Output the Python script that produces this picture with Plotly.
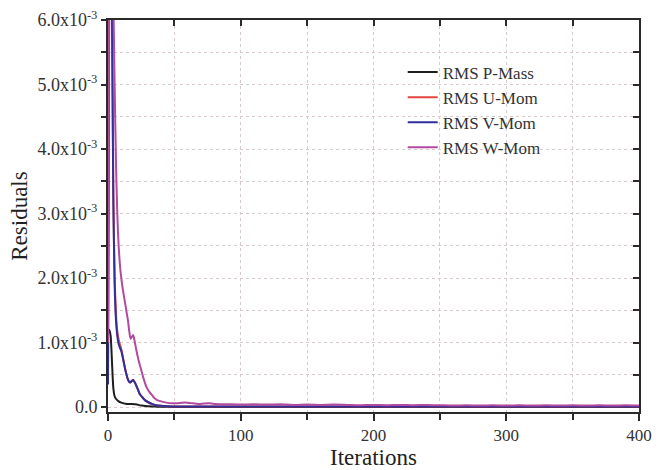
import plotly.graph_objects as go

# ---- data (residuals in units of 1e-3) ----
p_iter = [0, 1, 2, 3, 4, 5, 6, 8, 10, 14, 18, 21, 25, 30, 35, 40, 50, 60, 80, 100, 150, 200, 250, 300, 350, 400]
p_mass = [1.15, 1.2, 1.1, 0.7, 0.3, 0.17, 0.13, 0.09, 0.07, 0.05, 0.05, 0.045, 0.025, 0.015, 0.01, 0.006, 0.004,
          0.003, 0.003, 0.002, 0.002, 0.002, 0.002, 0.002, 0.002, 0.002]

v_iter = [0, 1, 2, 3, 4, 5, 6, 7, 8, 9, 10, 11, 12, 13, 14, 15, 16, 17, 18, 19, 20, 21, 22, 23, 24, 26, 28, 30,
          33, 36, 40, 45, 50, 70, 100, 130, 160, 200, 250, 300, 350, 400]
v_mom = [0.35, 7.0, 9.0, 6.2, 3.2, 1.9, 1.35, 1.1, 0.98, 0.92, 0.87, 0.78, 0.68, 0.58, 0.5, 0.43, 0.39, 0.385,
         0.41, 0.42, 0.39, 0.35, 0.3, 0.25, 0.2, 0.15, 0.105, 0.08, 0.05, 0.03, 0.02, 0.015, 0.012, 0.01, 0.012,
         0.01, 0.012, 0.01, 0.012, 0.01, 0.012, 0.01]

u_iter = v_iter
u_mom = [0.4, 7.2, 9.0, 6.4, 3.4, 2.0, 1.45, 1.18, 1.05, 0.97, 0.9, 0.8, 0.69, 0.59, 0.5, 0.43, 0.39, 0.385,
         0.41, 0.42, 0.39, 0.35, 0.3, 0.25, 0.2, 0.15, 0.105, 0.08, 0.05, 0.03, 0.02, 0.015, 0.012, 0.01, 0.012,
         0.01, 0.012, 0.01, 0.012, 0.01, 0.012, 0.01]

w_iter = [0, 1, 2, 3, 4, 5, 6, 7, 8, 9, 10, 11, 12, 13, 14, 15, 16, 17, 18, 19, 20, 21, 22, 23, 24, 25, 27, 29,
          31, 33, 35, 37, 40, 44, 48, 52, 56, 60, 64, 68, 72, 76, 80, 90, 100, 110, 120, 130, 140, 150, 160, 170,
          180, 190, 200, 210, 220, 230, 240, 250, 260, 270, 280, 290, 300, 310, 320, 330, 340, 350, 360, 370, 380,
          390, 400]
w_mom = [1.0, 8.0, 10.0, 8.0, 6.4, 5.0, 3.8, 3.0, 2.5, 2.2, 2.0, 1.85, 1.72, 1.6, 1.47, 1.35, 1.18, 1.06, 1.09,
         1.12, 1.03, 0.92, 0.82, 0.73, 0.65, 0.58, 0.43, 0.31, 0.24, 0.19, 0.14, 0.11, 0.09, 0.07, 0.06, 0.06,
         0.07, 0.07, 0.06, 0.05, 0.055, 0.06, 0.05, 0.045, 0.04, 0.045, 0.04, 0.045, 0.035, 0.04, 0.035, 0.04,
         0.035, 0.03, 0.035, 0.03, 0.035, 0.03, 0.035, 0.03, 0.025, 0.03, 0.025, 0.03, 0.025, 0.03, 0.025, 0.03,
         0.025, 0.03, 0.025, 0.03, 0.025, 0.03, 0.025]

y_tickvals = [0, 1e-3, 2e-3, 3e-3, 4e-3, 5e-3, 6e-3]
y_ticktext = ["0.0", "1.0x10<sup>-3</sup>", "2.0x10<sup>-3</sup>", "3.0x10<sup>-3</sup>",
              "4.0x10<sup>-3</sup>", "5.0x10<sup>-3</sup>", "6.0x10<sup>-3</sup>"]
y_minor = [0.5e-3, 1.5e-3, 2.5e-3, 3.5e-3, 4.5e-3, 5.5e-3]
x_tickvals = [0, 100, 200, 300, 400]
x_minor = [50, 150, 250, 350]

series = [
    ("RMS P-Mass", p_iter, p_mass, "#1e1e1e"),
    ("RMS U-Mom", u_iter, u_mom, "#e2453c"),
    ("RMS V-Mom", v_iter, v_mom, "#30309c"),
    ("RMS W-Mom", w_iter, w_mom, "#b24a9f"),
]

FONT = "Liberation Serif, Times New Roman, serif"
TXT = "#333333"
AX = "#2a2a2a"
GRID = "#d6caca"

fig = go.Figure()
for name, xs, ys, col in series:
    fig.add_trace(go.Scatter(x=xs, y=[v * 1e-3 for v in ys], mode="lines", name=name,
                             line=dict(color=col, width=2, shape="spline", smoothing=0.6)))
# empty helper trace so the mirrored (top/right) axes with inward ticks are drawn
fig.add_trace(go.Scatter(x=[], y=[], xaxis="x2", yaxis="y2", showlegend=False, hoverinfo="skip"))

XR = [0, 400]
YR = [-0.075e-3, 6.0e-3]

fig.update_layout(
    width=664, height=470,
    margin=dict(l=108, r=25, t=20, b=58),
    paper_bgcolor="white", plot_bgcolor="white",
    font=dict(family=FONT, color=TXT, size=17),
    showlegend=True,
    legend=dict(x=0.555, y=0.912, xanchor="left", yanchor="top", bgcolor="rgba(0,0,0,0)",
                font=dict(family=FONT, size=17, color=TXT), tracegroupgap=0, itemwidth=30),
    xaxis=dict(range=XR, tickvals=x_tickvals, ticks="outside", ticklen=7, tickwidth=2, tickcolor=AX,
               automargin=False,
               minor=dict(tickvals=x_minor, ticks="outside", ticklen=6, tickwidth=2, tickcolor=AX,
                          showgrid=True, gridcolor=GRID, griddash="dot", gridwidth=1),
               showline=True, linecolor=AX, linewidth=2, mirror=True, zeroline=False,
               showgrid=True, gridcolor=GRID, griddash="dot", gridwidth=1,
               title=dict(text="Iterations", font=dict(size=23, family=FONT, color="#222"), standoff=3),
               tickfont=dict(size=17, family=FONT, color=TXT)),
    yaxis=dict(range=YR, tickvals=y_tickvals, ticktext=y_ticktext, ticks="outside", ticklen=5, tickwidth=2,
               tickcolor=AX, automargin=False,
               minor=dict(tickvals=y_minor, ticks="outside", ticklen=5, tickwidth=2, tickcolor=AX,
                          showgrid=True, gridcolor=GRID, griddash="dot", gridwidth=1),
               showline=True, linecolor=AX, linewidth=2, mirror=True, zeroline=False,
               showgrid=True, gridcolor=GRID, griddash="dot", gridwidth=1,
               title=dict(text="Residuals", font=dict(size=23, family=FONT, color="#222"), standoff=3),
               tickfont=dict(size=18, family=FONT, color=TXT)),
    xaxis2=dict(overlaying="x", side="top", range=XR, tickvals=x_minor + x_tickvals[1:-1], ticks="inside",
                ticklen=6, tickwidth=2, tickcolor=AX, showticklabels=False, showgrid=False, zeroline=False,
                showline=False, anchor="y2", automargin=False),
    yaxis2=dict(overlaying="y", side="right", range=YR, tickvals=y_minor + y_tickvals[1:-1], ticks="inside",
                ticklen=6, tickwidth=2, tickcolor=AX, showticklabels=False, showgrid=False, zeroline=False,
                showline=False, anchor="x2", automargin=False),
)

fig.write_html("out.html")
